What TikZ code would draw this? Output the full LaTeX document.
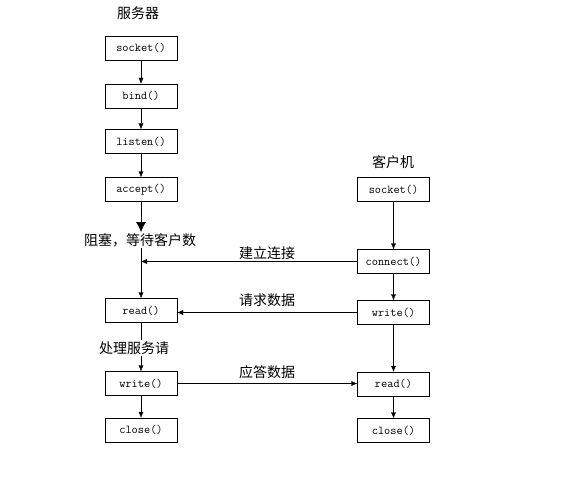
\documentclass[tikz,border=0pt]{standalone}
\usepackage{fontspec}
\newfontfamily\cjk{Noto Sans CJK SC}
\usetikzlibrary{arrows.meta}

\tikzset{
    call/.style={draw, minimum width=72pt, minimum height=24pt, inner sep=0pt, font=\ttfamily\fontsize{12}{13}\selectfont},
    note/.style={font=\cjk\fontsize{14}{15}\selectfont, inner sep=1pt},
    flow/.style={-{Latex[length=6pt,width=5pt]}},
}

\begin{document}
\begin{tikzpicture}[x=1pt, y=-1pt]

    \useasboundingbox (0,0) rectangle (567,500);

    % Server side
    \node[note] (server) at (138,13) {服务器};
    \node[call] (ssocket) at (141,48) {socket()};
    \node[call] (bind) at (141,96) {bind()};
    \node[call] (listen) at (141,141.5) {listen()};
    \node[call] (accept) at (141,189.5) {accept()};
    \node[note] (block) at (140,240) {阻塞，等待客户数};
    \node[call] (sread) at (141,310.5) {read()};
    \node[note] (process) at (134,348) {处理服务请};
    \node[call] (swrite) at (141,383.5) {write()};
    \node[call] (sclose) at (141,430) {close()};

    % Client side
    \node[note] (client) at (393,162) {客户机};
    \node[call] (csocket) at (393.5,189.5) {socket()};
    \node[call] (connect) at (393.5,261.5) {connect()};
    \node[call] (cwrite) at (393.5,312.5) {write()};
    \node[call] (cread) at (393.5,384) {read()};
    \node[call] (cclose) at (393.5,430.5) {close()};

    % Message labels
    \node[note] (conn) at (267,253) {建立连接};
    \node[note] (req) at (267,300) {请求数据};
    \node[note] (resp) at (267,372) {应答数据};

    \draw[flow] (ssocket) -- (bind);
    \draw[flow] (bind) -- (listen);
    \draw[flow] (listen) -- (accept);
    \draw[thick, -{Latex[length=10pt,width=10pt]}] (accept) -- (accept |- block.north);
    \draw[flow] (block.south -| sread) -- (sread);
    \draw (sread) -- (sread |- process.north);
    \draw[flow] (process.south -| swrite) -- (swrite);
    \draw[flow] (swrite) -- (sclose);

    \draw[flow] (csocket) -- (connect);
    \draw[flow] (connect) -- (cwrite);
    \draw[flow] (cwrite) -- (cread);
    \draw[flow] (cread) -- (cclose);

    % Messages between the two sides
    \draw[flow] (connect.west) -- (connect.west -| sread);
    \draw[flow] (cwrite.west) -- (cwrite.west -| sread.east);
    \draw[flow] (swrite.east) -- (swrite.east -| cread.west);

\end{tikzpicture}
\end{document}
